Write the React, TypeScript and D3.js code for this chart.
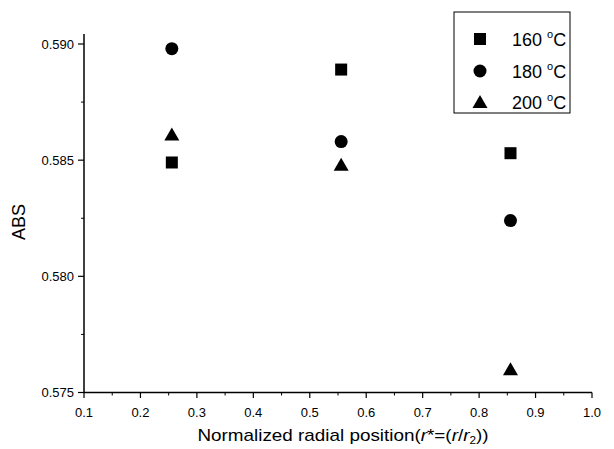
import React from "react";
import * as d3 from "d3";

const positions = [0.2556, 0.5556, 0.8556];
const series160 = [0.5849, 0.5889, 0.5853];
const series180 = [0.5898, 0.5858, 0.5824];
const series200 = [0.5861, 0.5848, 0.576];
const seriesNames = ["160", "180", "200"];
const seriesShapes = ["square", "circle", "triangle"];
const xTicks = [0.1, 0.2, 0.3, 0.4, 0.5, 0.6, 0.7, 0.8, 0.9, 1.0];
const yTicks = [0.575, 0.58, 0.585, 0.59];

const W = 614;
const H = 449;
const font = "'Liberation Sans', Arial, sans-serif";

function Marker({ shape, x, y }: { shape: string; x: number; y: number }) {
  if (shape === "square") return <rect x={x - 6} y={y - 6} width={12} height={12} fill="#000" />;
  if (shape === "circle") return <circle cx={x} cy={y} r={6.5} fill="#000" />;
  return <path d={`M${x},${y - 7}L${x + 7.5},${y + 6}L${x - 7.5},${y + 6}Z`} fill="#000" />;
}

export default function App() {
  const x = d3.scaleLinear().domain([0.1, 1.0]).range([84, 592]);
  const y = d3.scaleLinear().domain([0.575, 0.59]).range([392.5, 44]);
  const minorX = d3.range(0.15, 1.0, 0.1);
  const minorY = d3.range(0.5775, 0.59, 0.005);
  const all = [series160, series180, series200];
  const legendY = [39, 71, 102];
  return (
    <svg width={W} height={H} style={{ position: "absolute", left: 0, top: 0, background: "#fff" }} fontFamily={font}>
      <rect x={0} y={0} width={W} height={H} fill="#fff" />
      {/* axes */}
      <line x1={84} y1={34} x2={84} y2={392.5} stroke="#000" strokeWidth={1.5} />
      <line x1={84} y1={392.5} x2={592} y2={392.5} stroke="#000" strokeWidth={1.5} />
      {xTicks.map((t) => (
        <g key={"xt" + t}>
          <line x1={x(t)} x2={x(t)} y1={392.5} y2={398} stroke="#000" strokeWidth={1.2} />
          <text x={x(t)} y={417} fontSize={13} textAnchor="middle">{t.toFixed(1)}</text>
        </g>
      ))}
      {minorX.map((t) => (
        <line key={"xm" + t} x1={x(t)} x2={x(t)} y1={392.5} y2={395.5} stroke="#000" strokeWidth={1} />
      ))}
      {yTicks.map((t) => (
        <g key={"yt" + t}>
          <line x1={78} x2={84} y1={y(t)} y2={y(t)} stroke="#000" strokeWidth={1.2} />
          <text x={74} y={y(t) + 4.5} fontSize={13} textAnchor="end">{t.toFixed(3)}</text>
        </g>
      ))}
      {minorY.map((t) => (
        <line key={"ym" + t} x1={81} x2={84} y1={y(t)} y2={y(t)} stroke="#000" strokeWidth={1} />
      ))}
      <text transform="translate(25,222) rotate(-90)" fontSize={18} textAnchor="middle">ABS</text>
      <g transform="translate(343,441) scale(1.18,1)">
        <text x={0} y={0} fontSize={16} textAnchor="middle">
          Normalized radial position(<tspan fontStyle="italic">r</tspan>*=(<tspan fontStyle="italic">r</tspan>/<tspan fontStyle="italic">r</tspan>
          <tspan fontSize={10} dy={3}>2</tspan>
          <tspan dy={-3}>))</tspan>
        </text>
      </g>
      {/* points */}
      {all.map((s, si) =>
        s.map((v, i) => <Marker key={si + "-" + i} shape={seriesShapes[si]} x={x(positions[i])} y={y(v)} />)
      )}
      {/* legend */}
      <rect x={454} y={12} width={116} height={101} fill="#fff" stroke="#000" strokeWidth={1} />
      {seriesNames.map((n, i) => (
        <g key={"lg" + n}>
          <Marker shape={seriesShapes[i]} x={480} y={legendY[i]} />
          <text x={512} y={legendY[i] + 6.5} fontSize={18}>
            {n} <tspan fontSize={11} dy={-8}>o</tspan><tspan dy={8}>C</tspan>
          </text>
        </g>
      ))}
    </svg>
  );
}
